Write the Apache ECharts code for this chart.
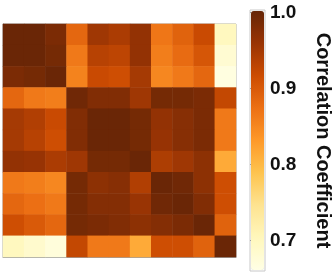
<!DOCTYPE html>
<html><head><meta charset="utf-8">
<script src="https://cdn.jsdelivr.net/npm/echarts@6/dist/echarts.min.js"></script>
<style>html,body{margin:0;padding:0;background:#fff}#c{width:335px;height:273px}</style>
</head><body><div id="c"></div><script>
const categories = ['S1','S2','S3','S4','S5','S6','S7','S8','S9','S10','S11'];
const row01 = [1.000, 1.000, 0.985, 0.885, 0.955, 0.945, 0.965, 0.868, 0.890, 0.920, 0.700];
const row02 = [1.000, 1.000, 0.990, 0.865, 0.935, 0.930, 0.965, 0.860, 0.880, 0.905, 0.680];
const row03 = [0.985, 0.990, 1.000, 0.855, 0.920, 0.915, 0.950, 0.850, 0.865, 0.885, 0.665];
const row04 = [0.885, 0.865, 0.860, 0.995, 0.980, 0.980, 0.955, 0.990, 0.990, 0.985, 0.925];
const row05 = [0.950, 0.940, 0.920, 0.980, 1.000, 1.000, 0.990, 0.965, 0.975, 0.985, 0.865];
const row06 = [0.950, 0.935, 0.915, 0.980, 1.000, 1.000, 0.990, 0.962, 0.975, 0.985, 0.865];
const row07 = [0.965, 0.962, 0.945, 0.955, 0.990, 0.990, 1.000, 0.943, 0.955, 0.970, 0.815];
const row08 = [0.865, 0.860, 0.850, 0.990, 0.970, 0.975, 0.940, 1.000, 0.995, 0.970, 0.915];
const row09 = [0.885, 0.875, 0.865, 0.990, 0.978, 0.978, 0.960, 0.995, 1.000, 0.980, 0.915];
const row10 = [0.915, 0.900, 0.885, 0.990, 0.985, 0.980, 0.970, 0.978, 0.985, 1.000, 0.890];
const row11 = [0.700, 0.685, 0.670, 0.925, 0.865, 0.865, 0.815, 0.915, 0.915, 0.890, 1.000];
const colorbarTicks = [0.7, 0.8, 0.9, 1.0];
const valueMin = 0.66;
const valueMax = 1.003;
const paletteYlOrBr = ['#ffffe5','#fff7bc','#fee391','#fec44f','#fe9929','#ec7014','#cc4c02','#993404','#662506'];

const rows = [row01,row02,row03,row04,row05,row06,row07,row08,row09,row10,row11];
const data = [];
rows.forEach((r, i) => r.forEach((v, j) => data.push([j, i, v])));

const axisGray = '#a0a0a0';
const chart = echarts.init(document.getElementById('c'), null, {renderer: 'canvas'});
chart.setOption({
  animation: false,
  grid: [
    {left: 3, top: 24, width: 233, height: 233, show: true, borderColor: axisGray, borderWidth: 1, backgroundColor: 'transparent'},
    {left: 250, top: 10, width: 15, height: 261, show: true, borderColor: '#c8c8c8', borderWidth: 1, backgroundColor: 'transparent'}
  ],
  xAxis: [
    {type: 'category', data: categories, gridIndex: 0, position: 'bottom',
     axisLine: {lineStyle: {color: axisGray}},
     axisTick: {alignWithLabel: true, length: 3, lineStyle: {color: axisGray}},
     axisLabel: {show: false}, splitLine: {show: false}},
    {type: 'value', gridIndex: 1, show: false, min: 0, max: 1}
  ],
  yAxis: [
    {type: 'category', data: categories, gridIndex: 0, inverse: true,
     axisLine: {lineStyle: {color: axisGray}},
     axisTick: {alignWithLabel: true, length: 3, lineStyle: {color: axisGray}},
     axisLabel: {show: false}, splitLine: {show: false}},
    {type: 'value', gridIndex: 1, min: valueMin, max: valueMax, position: 'right',
     axisLine: {show: false},
     axisTick: {show: true, length: 3, customValues: colorbarTicks, lineStyle: {color: axisGray}},
     axisLabel: {customValues: colorbarTicks, formatter: v => v.toFixed(1), fontSize: 19, fontWeight: 'bold', color: '#111', fontFamily: 'Liberation Sans', margin: 5},
     splitLine: {show: false},
     name: 'Correlation Coefficient', nameLocation: 'middle', nameRotate: -90, nameGap: 48,
     nameTextStyle: {fontSize: 20, fontWeight: 'bold', color: '#111', fontFamily: 'Liberation Sans'}}
  ],
  visualMap: {
    type: 'continuous', min: valueMin, max: valueMax, calculable: false, orient: 'vertical',
    left: 251, top: 11, itemWidth: 13, itemHeight: 259, padding: 0, showLabel: false, text: null,
    seriesIndex: 0, inRange: {color: paletteYlOrBr}
  },
  series: [{type: 'heatmap', data: data, xAxisIndex: 0, yAxisIndex: 0, itemStyle: {borderWidth: 0}}]
});
</script></body></html>
